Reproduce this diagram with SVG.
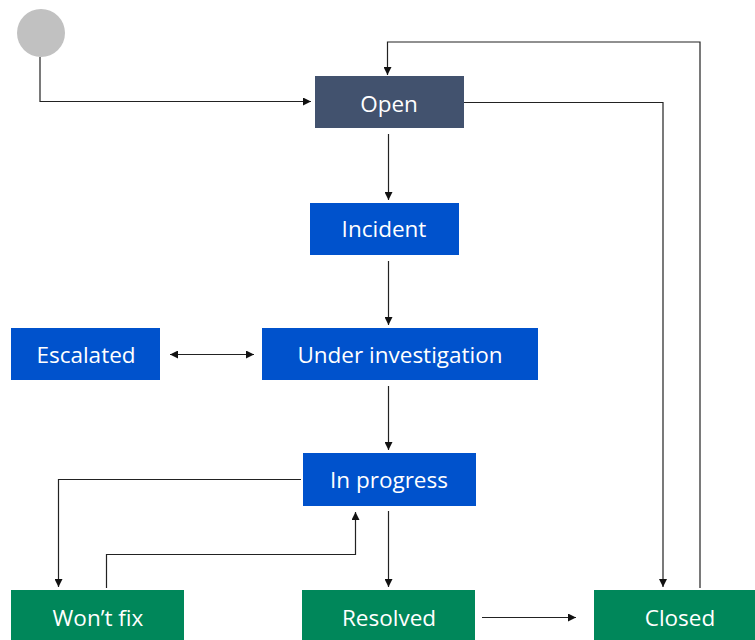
<svg xmlns="http://www.w3.org/2000/svg" width="755" height="640" viewBox="0 0 755 640">
<defs>
<style>
.lbl{font-family:"Open Sans","Noto Sans",sans-serif;font-size:22.5px;fill:#ffffff;text-anchor:middle}
.blue{fill:#0052cc}
.green{fill:#00875a}
.slate{fill:#42526e}
.con{fill:none;stroke:#222;stroke-width:1.2}
</style>
<marker id="ah" viewBox="0 0 10 10" refX="10" refY="5" markerWidth="8" markerHeight="8" markerUnits="userSpaceOnUse" orient="auto-start-reverse">
<path d="M0,0 L10,5 L0,10 z" fill="#111"/>
</marker>
</defs>
<rect width="755" height="640" fill="#ffffff"/>
<g id="start"><circle cx="41" cy="33" r="24" fill="#c1c1c1"/></g>
<g id="open"><rect class="slate" x="315" y="76" width="149" height="52"/><text class="lbl" x="389" y="112">Open</text></g>
<g id="incident"><rect class="blue" x="310" y="203" width="149" height="52"/><text class="lbl" x="384" y="237">Incident</text></g>
<g id="escalated"><rect class="blue" x="11" y="328" width="149" height="52"/><text class="lbl" x="86" y="363">Escalated</text></g>
<g id="under-investigation"><rect class="blue" x="262" y="328" width="276" height="52"/><text class="lbl" x="400" y="363">Under investigation</text></g>
<g id="in-progress"><rect class="blue" x="303" y="453" width="173" height="53"/><text class="lbl" x="389" y="488">In progress</text></g>
<g id="wont-fix"><rect class="green" x="11" y="590" width="173" height="50"/><text class="lbl" x="98" y="626">Won’t fix</text></g>
<g id="resolved"><rect class="green" x="302" y="590" width="173" height="50"/><text class="lbl" x="389" y="626">Resolved</text></g>
<g id="closed"><rect class="green" x="594" y="590" width="161" height="50"/><text class="lbl" x="680" y="626">Closed</text></g>
<g id="connectors">
<path class="con" d="M40,57 V101.5 H311" marker-end="url(#ah)"/>
<path class="con" d="M700,588 V42 H387.5 V75" marker-end="url(#ah)"/>
<path class="con" d="M464,102.5 H663 V587" marker-end="url(#ah)"/>
<path class="con" d="M388.5,134 V200" marker-end="url(#ah)"/>
<path class="con" d="M388.5,261 V325" marker-end="url(#ah)"/>
<path class="con" d="M170,354.5 H254" marker-start="url(#ah)" marker-end="url(#ah)"/>
<path class="con" d="M388.5,386 V450" marker-end="url(#ah)"/>
<path class="con" d="M301,479.5 H58.5 V587" marker-end="url(#ah)"/>
<path class="con" d="M106.5,588 V554.5 H355.5 V512" marker-end="url(#ah)"/>
<path class="con" d="M388.5,511 V587" marker-end="url(#ah)"/>
<path class="con" d="M482,617.5 H576" marker-end="url(#ah)"/>
</g>
</svg>
